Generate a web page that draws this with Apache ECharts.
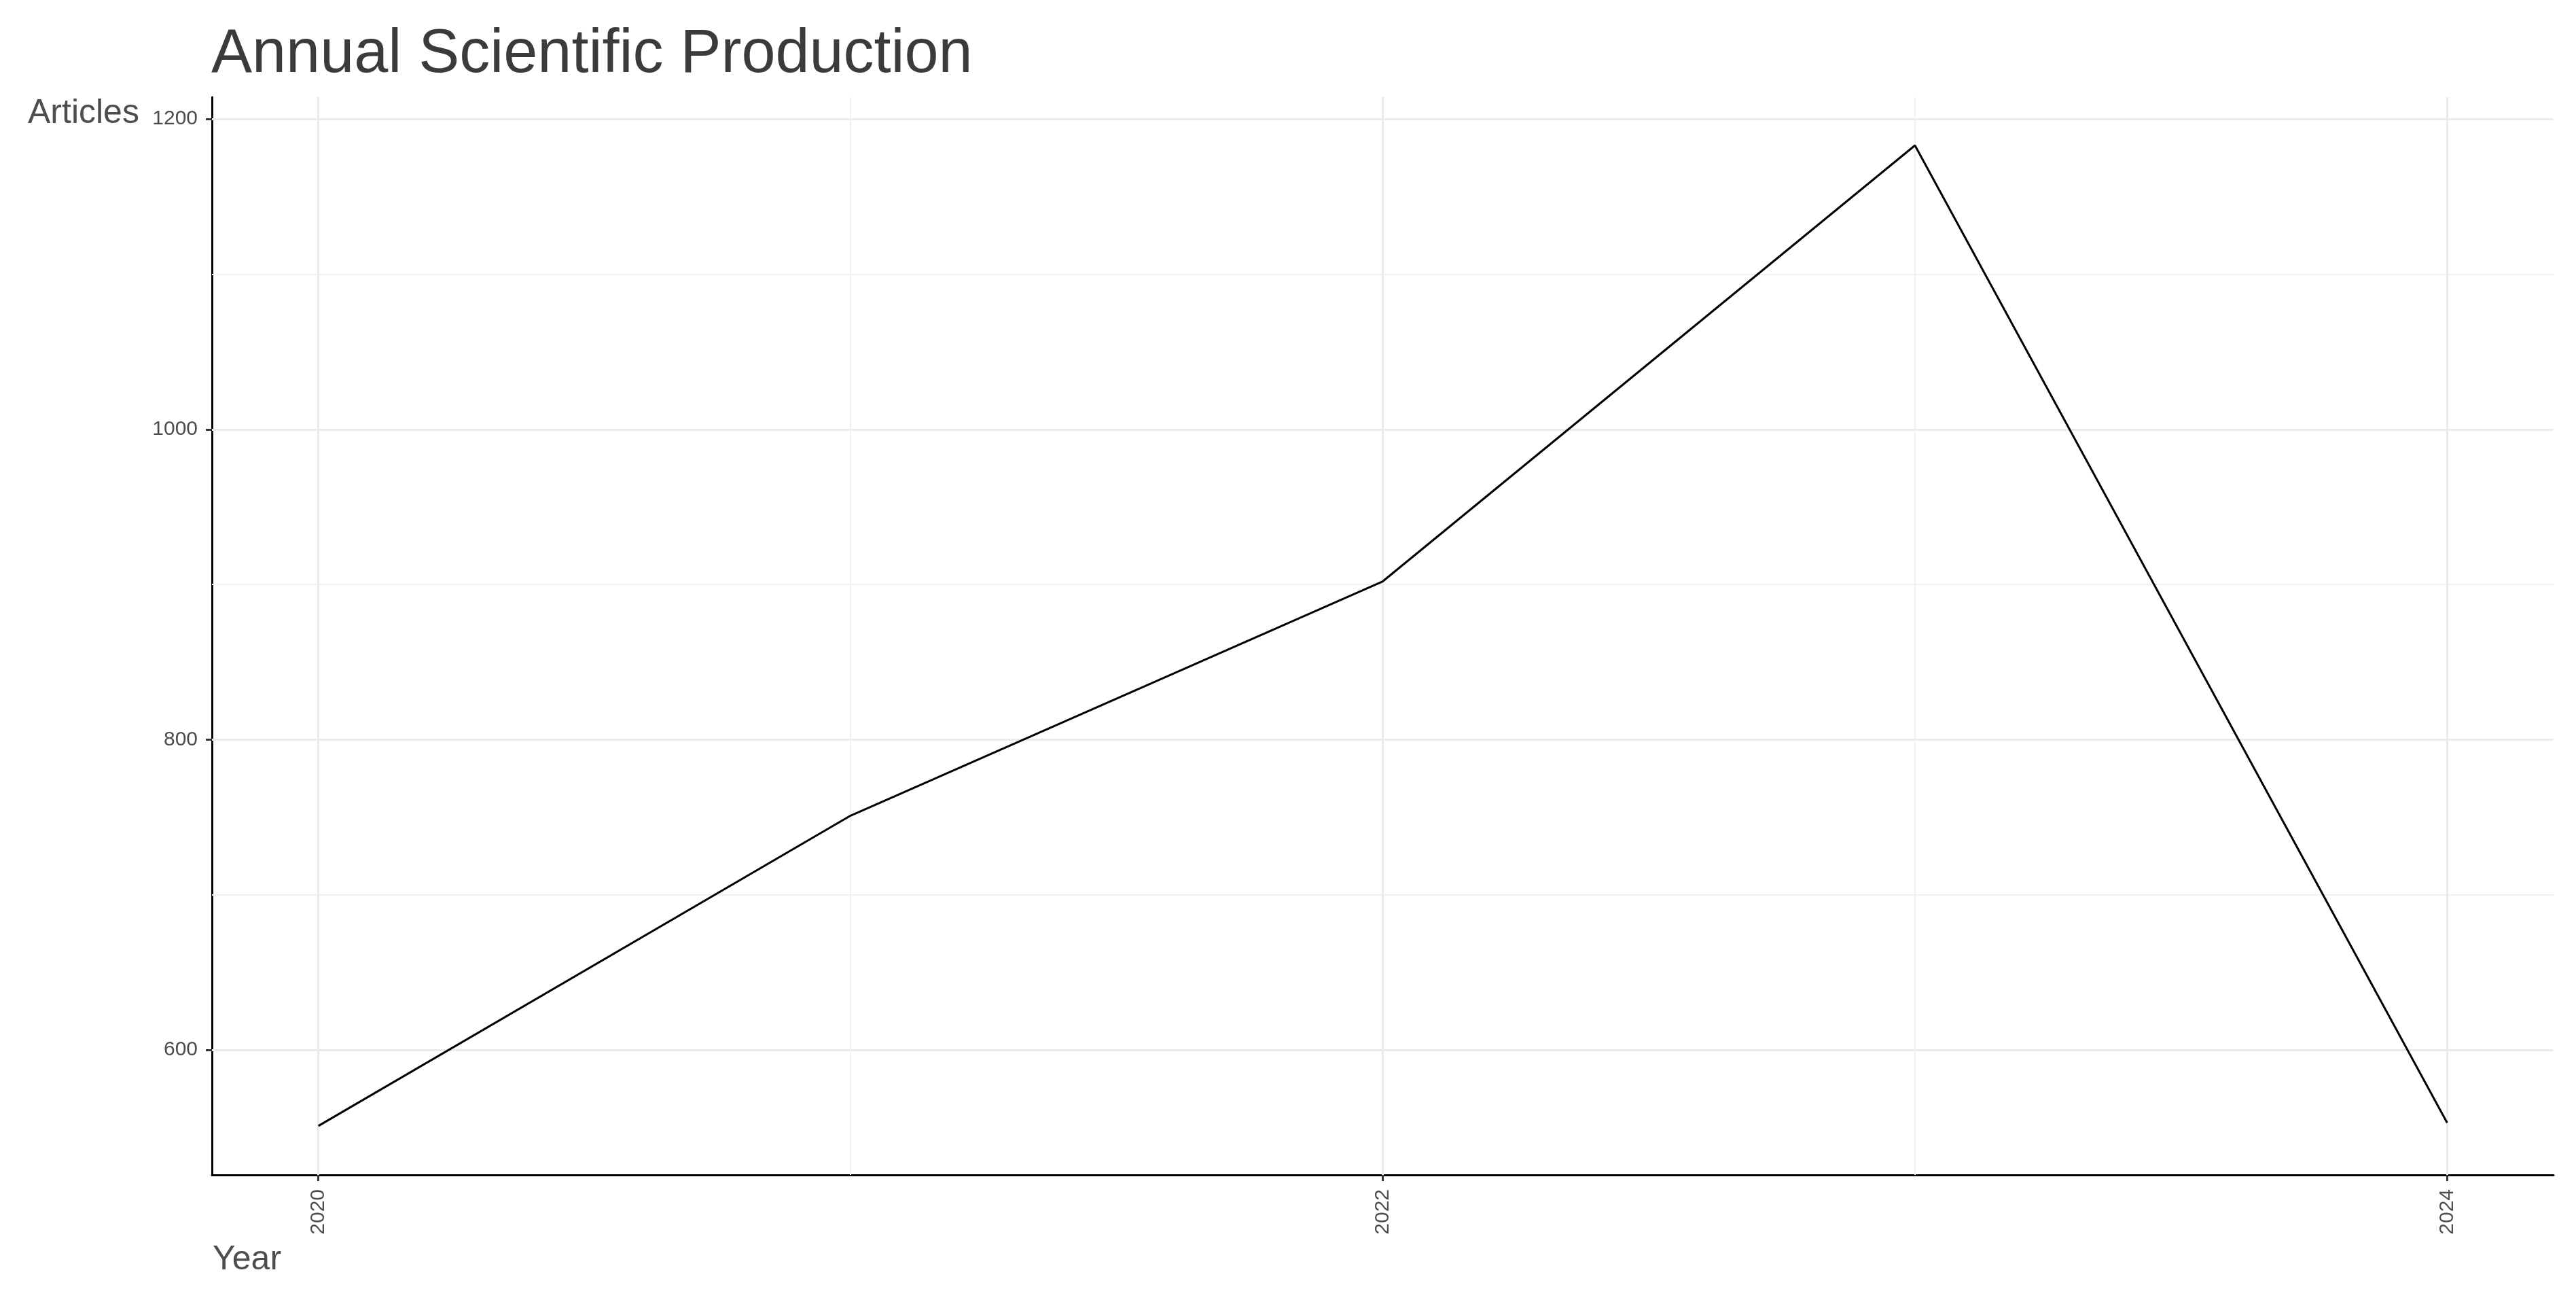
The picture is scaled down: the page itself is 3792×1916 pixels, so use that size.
<!DOCTYPE html>
<html>
<head>
<meta charset="utf-8">
<script src="https://cdn.jsdelivr.net/npm/echarts@6/dist/echarts.min.js"></script>
<style>
html,body{margin:0;padding:0;background:#fff;}
#main{width:3792px;height:1916px;}
</style>
</head>
<body>
<div id="main"></div>
<script>
const years = [2020, 2021, 2022, 2023, 2024];
const articles = [551, 751, 902, 1183, 553];
const yTickValues = [600, 800, 1000, 1200];
const yMinorValues = [700, 900, 1100];
const xTickValues = [2020, 2022, 2024];
const xMinorValues = [2021, 2023];
const titleText = 'Annual Scientific Production';
const yTitle = 'Articles';
const xTitle = 'Year';

const FONT = '"Liberation Sans", Arial, sans-serif';
const chart = echarts.init(document.getElementById('main'));

const gridLines = []
  .concat(yTickValues.map(v => ({ yAxis: v, lineStyle: { type: 'solid', width: 3, color: '#ebebeb' } })))
  .concat(yMinorValues.map(v => ({ yAxis: v, lineStyle: { type: 'solid', width: 2, color: '#f1f1f1' } })))
  .concat(xTickValues.map(v => ({ xAxis: v, lineStyle: { type: 'solid', width: 3, color: '#ebebeb' } })))
  .concat(xMinorValues.map(v => ({ xAxis: v, lineStyle: { type: 'solid', width: 2, color: '#f1f1f1' } })));

chart.setOption({
  animation: false,
  backgroundColor: '#ffffff',
  title: {
    text: titleText,
    left: 306,
    top: 31,
    textStyle: { fontFamily: FONT, fontSize: 90, fontWeight: 'normal', color: '#3b3b3b' }
  },
  graphic: [
    { type: 'text', left: 41, top: 142, style: { text: yTitle, font: '50px ' + FONT, fill: '#4d4d4d' } },
    { type: 'text', left: 313, top: 1829, style: { text: xTitle, font: '50px ' + FONT, fill: '#4d4d4d' } }
  ],
  grid: { left: 312, right: 33, top: 143, bottom: 187, outerBoundsMode: 'none', containLabel: false },
  xAxis: {
    type: 'value',
    min: 2019.8,
    max: 2024.2,
    axisLine: { show: true, lineStyle: { color: '#000', width: 3 } },
    axisTick: { show: true, length: 9, customValues: xTickValues, lineStyle: { color: '#333', width: 3 } },
    axisLabel: {
      customValues: xTickValues, rotate: 90, margin: 21,
      fontFamily: FONT, fontSize: 30, color: '#4d4d4d',
      formatter: v => String(v)
    },
    splitLine: { show: false }
  },
  yAxis: {
    type: 'value',
    min: 519.4,
    max: 1214.1,
    axisLine: { show: true, lineStyle: { color: '#000', width: 3 } },
    axisTick: { show: true, length: 9, customValues: yTickValues, lineStyle: { color: '#333', width: 3 } },
    axisLabel: {
      customValues: yTickValues, margin: 21,
      fontFamily: FONT, fontSize: 30, color: '#4d4d4d',
      formatter: v => String(v)
    },
    splitLine: { show: false }
  },
  series: [
    {
      type: 'line',
      data: [],
      silent: true,
      markLine: {
        silent: true,
        symbol: ['none', 'none'],
        label: { show: false },
        lineStyle: { type: 'solid' },
        z: 1,
        animation: false,
        data: gridLines
      }
    },
    {
      type: 'line',
      z: 3,
      data: years.map((y, i) => [y, articles[i]]),
      showSymbol: false,
      symbol: 'none',
      lineStyle: { color: '#000', width: 3 },
      itemStyle: { color: '#000' }
    }
  ]
});
</script>
</body>
</html>
